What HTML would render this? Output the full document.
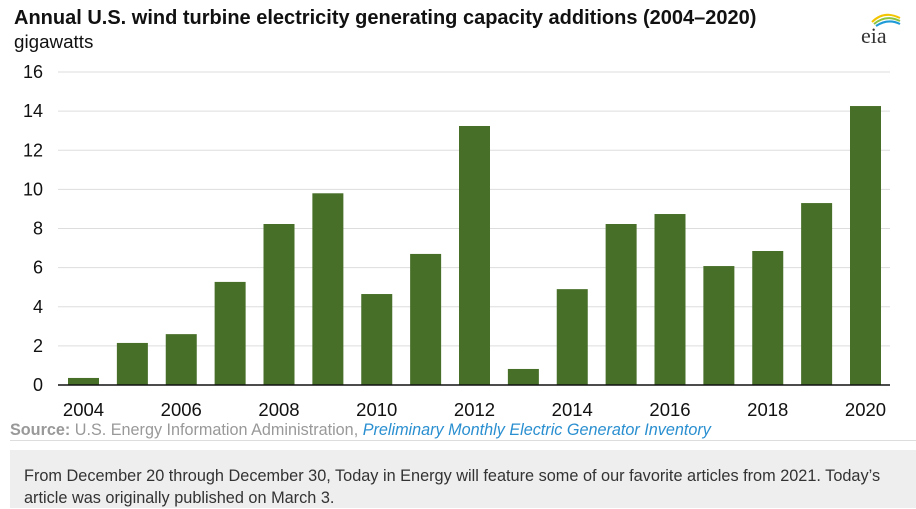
<!DOCTYPE html>
<html><head><meta charset="utf-8"><style>
body{margin:0;width:916px;height:508px;background:#fff;font-family:"Liberation Sans",Arial,sans-serif;position:relative;overflow:hidden}
.t{position:absolute;white-space:nowrap}
</style></head><body>
<div class="t" style="left:14px;top:7px;font-size:20px;font-weight:bold;color:#111">Annual U.S. wind turbine electricity generating capacity additions (2004–2020)</div>
<div class="t" style="left:14px;top:31px;font-size:18.8px;color:#111">gigawatts</div>
<svg style="position:absolute;left:858px;top:10px" width="50" height="36">
<path d="M14 12 Q26 0 42 8" stroke="#f2c500" stroke-width="2" fill="none"/>
<path d="M16 14 Q28 4 42 11" stroke="#8cc43f" stroke-width="2" fill="none"/>
<path d="M18 16 Q30 8 42 14" stroke="#1e9ad6" stroke-width="2" fill="none"/>
<text x="3" y="33" font-family="Liberation Serif,serif" font-size="22" fill="#333">eia</text>
</svg>
<svg id="c" style="position:absolute;left:0;top:0" width="916" height="430"></svg>
<div class="t" style="left:10px;top:421px;font-size:16.2px;color:#999"><b>Source:</b> U.S. Energy Information Administration, <i style="color:#2a8fd0">Preliminary Monthly Electric Generator Inventory</i></div>
<div style="position:absolute;left:10px;top:440px;width:906px;height:1px;background:#ddd"></div>
<div style="position:absolute;left:10px;top:450px;width:906px;height:58px;background:#eee"></div>
<div class="t" style="left:24px;top:465px;font-size:16.3px;line-height:22px;color:#333">From December 20 through December 30, Today in Energy will feature some of our favorite articles from 2021. Today’s<br>article was originally published on March 3.</div>
<script>
const years=[2004,2005,2006,2007,2008,2009,2010,2011,2012,2013,2014,2015,2016,2017,2018,2019,2020];
const values=[0.36,2.15,2.6,5.27,8.23,9.8,4.65,6.7,13.24,0.82,4.9,8.23,8.74,6.08,6.85,9.3,14.26];
const yTicks=[0,2,4,6,8,10,12,14,16];
const xLabels=[2004,2006,2008,2010,2012,2014,2016,2018,2020];
const svg=document.getElementById('c');
const NS='http://www.w3.org/2000/svg';
const y0=385,y1=72,left=58,right=890,bw=31;
const y=v=>y0-(v/16)*(y0-y1);
const x=yr=>83.5+(yr-2004)*48.875;
function mk(t,a){const e=document.createElementNS(NS,t);for(const k in a)e.setAttribute(k,a[k]);svg.appendChild(e);return e;}
yTicks.forEach(v=>{
 if(v>0){const g=mk('line',{x1:left,x2:right,y1:y(v),y2:y(v),stroke:'#ddd','stroke-width':1});
 
 }
 const t=mk('text',{x:43,y:y(v)+6,'text-anchor':'end','font-size':18,fill:'#111','font-family':'Liberation Sans,sans-serif'});
 t.textContent=v;
 
 
});
years.forEach((yr,i)=>{
 const r=mk('rect',{x:x(yr)-bw/2,y:y(values[i]),width:bw,height:y0-y(values[i]),fill:'#476f28'});
 
 
});
const ax=mk('line',{x1:left,x2:right,y1:y0,y2:y0,stroke:'#111','stroke-width':1.5});


xLabels.forEach(yr=>{
 const t=mk('text',{x:x(yr),y:416,'text-anchor':'middle','font-size':18.5,fill:'#111','font-family':'Liberation Sans,sans-serif'});
 t.textContent=yr;
 
 
});
</script>
</body></html>
